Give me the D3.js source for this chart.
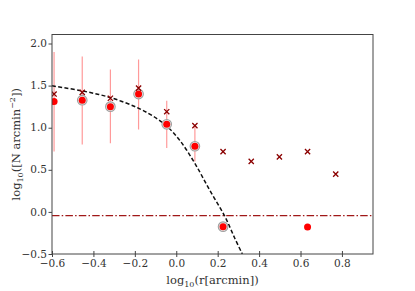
<!DOCTYPE html>
<html>
<head>
<meta charset="utf-8">
<script src="https://cdn.jsdelivr.net/npm/d3@7"></script>
<style>
  body { margin: 0; background: #fff; }
  svg text { font-family: "DejaVu Serif", serif !important; }
</style>
</head>
<body>
<div id="chart"></div>
<script>
/* measured points (red dots) */
var dotX = [-0.59, -0.454, -0.318, -0.182, -0.046, 0.09, 0.226, 0.634];
var dotY = [1.31, 1.327, 1.25, 1.40, 1.04, 0.78, -0.175, -0.18];
var dotRing = [false, true, true, true, true, true, true, false];

/* error bars on the first dots */
var errHi = [1.90, 1.845, 1.69, 1.81, 1.32, 1.01];
var errLo = [0.716, 0.80, 0.816, 0.98, 0.76, 0.60];

/* crosses */
var crossX = [-0.59, -0.454, -0.318, -0.182, -0.046, 0.09, 0.226, 0.362, 0.498, 0.634, 0.77];
var crossY = [1.40, 1.42, 1.35, 1.47, 1.19, 1.025, 0.716, 0.60, 0.653, 0.716, 0.448];

/* model curve */
var modelX = [-0.6, -0.454, -0.317, -0.181, -0.095, -0.042, 0.017, 0.089, 0.161, 0.234, 0.282, 0.319];
var modelY = [1.497, 1.437, 1.357, 1.23, 1.11, 1.01, 0.85, 0.58, 0.26, -0.05, -0.31, -0.5];

/* background level */
var bgLevel = -0.044;

var xTicks = [-0.6, -0.4, -0.2, 0.0, 0.2, 0.4, 0.6, 0.8];
var yTicks = [-0.5, 0.0, 0.5, 1.0, 1.5, 2.0];

var width = 415, height = 291;
var margin = {left: 52, right: 42, top: 34.5, bottom: 37};

var svg = d3.select("#chart").append("svg")
    .attr("width", width)
    .attr("height", height);

var x = d3.scaleLinear().domain([-0.6, 0.95]).range([margin.left, width - margin.right]);
var y = d3.scaleLinear().domain([-0.5, 2.107]).range([height - margin.bottom, margin.top]);

svg.append("defs").append("clipPath").attr("id", "clip")
  .append("rect")
    .attr("x", margin.left).attr("y", margin.top)
    .attr("width", width - margin.left - margin.right)
    .attr("height", height - margin.top - margin.bottom);

var g = svg.append("g").attr("clip-path", "url(#clip)");

// error bars
g.selectAll(".err")
    .data(errHi)
  .enter().append("line")
    .attr("class", "err")
    .attr("x1", function(d, i) { return x(dotX[i]); })
    .attr("x2", function(d, i) { return x(dotX[i]); })
    .attr("y1", function(d) { return y(d); })
    .attr("y2", function(d, i) { return y(errLo[i]); })
    .attr("stroke", "#ff9a9a")
    .attr("stroke-width", 1.2);

// background line
g.append("line")
    .attr("x1", x(-0.6)).attr("x2", x(0.95))
    .attr("y1", y(bgLevel)).attr("y2", y(bgLevel))
    .attr("stroke", "#a01818")
    .attr("stroke-width", 1.3)
    .attr("stroke-dasharray", "7.5,2.2,1.5,2.2");

// model curve
var line = d3.line()
    .x(function(d) { return x(d[0]); })
    .y(function(d) { return y(d[1]); })
    .curve(d3.curveCatmullRom);

g.append("path")
    .datum(modelX.map(function(v, i) { return [v, modelY[i]]; }))
    .attr("d", line)
    .attr("fill", "none")
    .attr("stroke", "#111")
    .attr("stroke-width", 1.5)
    .attr("stroke-dasharray", "4,2.3");

// gray rings behind dots
g.selectAll(".ring")
    .data(dotX.filter(function(d, i) { return dotRing[i]; }))
  .enter().append("circle")
    .attr("class", "ring")
    .attr("cx", function(d) { return x(d); })
    .attr("cy", function(d) { return y(dotY[dotX.indexOf(d)]); })
    .attr("r", 4.8)
    .attr("fill", "#e6e6e6")
    .attr("stroke", "#a0a0a0")
    .attr("stroke-width", 1.1);

// red dots
g.selectAll(".dot")
    .data(dotX)
  .enter().append("circle")
    .attr("class", "dot")
    .attr("cx", function(d) { return x(d); })
    .attr("cy", function(d, i) { return y(dotY[i]); })
    .attr("r", 3.5)
    .attr("fill", "#ff0000");

// crosses
var s = 2.6;
g.selectAll(".cross")
    .data(crossX)
  .enter().append("path")
    .attr("class", "cross")
    .attr("d", function(d, i) {
      var cx = x(d), cy = y(crossY[i]);
      return "M" + (cx - s) + "," + (cy - s) + "L" + (cx + s) + "," + (cy + s) +
             "M" + (cx - s) + "," + (cy + s) + "L" + (cx + s) + "," + (cy - s);
    })
    .attr("stroke", "#8b0000")
    .attr("stroke-width", 1.3)
    .attr("fill", "none");

// frame
svg.append("rect")
    .attr("x", margin.left).attr("y", margin.top)
    .attr("width", width - margin.left - margin.right)
    .attr("height", height - margin.top - margin.bottom)
    .attr("fill", "none")
    .attr("stroke", "#444")
    .attr("stroke-width", 1);

// axes
var xAxis = svg.append("g")
    .attr("transform", "translate(0," + (height - margin.bottom) + ")")
    .call(d3.axisBottom(x).tickValues(xTicks).tickFormat(d3.format(".1f")).tickSize(3).tickSizeOuter(0));
xAxis.select(".domain").remove();
xAxis.selectAll(".tick line").attr("y1", -3).attr("stroke", "#444");
xAxis.selectAll(".tick text").attr("font-size", 10.5).attr("fill", "#333").attr("dy", "0.7em");

var yAxis = svg.append("g")
    .attr("transform", "translate(" + margin.left + ",0)")
    .call(d3.axisLeft(y).tickValues(yTicks).tickFormat(d3.format(".1f")).tickSize(3.5).tickSizeOuter(0));
yAxis.select(".domain").remove();
yAxis.selectAll(".tick line").attr("stroke", "#444");
yAxis.selectAll(".tick text").attr("font-size", 10.5).attr("fill", "#333").attr("x", -5).attr("dy", "0.3em");

// axis labels
var xl = svg.append("text")
    .attr("x", (margin.left + width - margin.right) / 2)
    .attr("y", 284)
    .attr("text-anchor", "middle")
    .attr("fill", "#333")
    .attr("font-size", 11.5);
xl.append("tspan").text("log");
xl.append("tspan").attr("font-size", 8).attr("dy", 3).text("10");
xl.append("tspan").attr("dy", -3).text("(r[arcmin])");

var yl = svg.append("text")
    .attr("transform", "translate(20," + ((margin.top + height - margin.bottom) / 2) + ") rotate(-90)")
    .attr("text-anchor", "middle")
    .attr("fill", "#333")
    .attr("font-size", 11.5);
yl.append("tspan").text("log");
yl.append("tspan").attr("font-size", 8).attr("dy", 3).text("10");
yl.append("tspan").attr("dy", -3).text("([N arcmin");
yl.append("tspan").attr("font-size", 8).attr("dy", -5).text("−2");
yl.append("tspan").attr("dy", 5).text("])");
</script>
</body>
</html>
